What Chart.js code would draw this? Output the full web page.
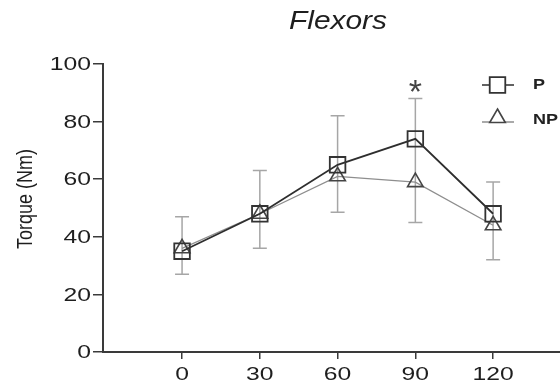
<!DOCTYPE html>
<html>
<head>
<meta charset="utf-8">
<script src="https://cdn.jsdelivr.net/npm/chart.js@4"></script>
<style>
  html, body { margin: 0; padding: 0; background: #fff; }
  #wrap { width: 560px; height: 389px; position: relative; }
</style>
</head>
<body>
<div id="wrap"><canvas id="chart"></canvas></div>
<script>
// Data
const angles = [0, 30, 60, 90, 120];
const torqueP = [35, 48, 65, 74, 48];
const torqueNP = [36, 48, 61, 59, 44];
const sdP = [12, 15, 17, 14, 11];      // drawn upward from P
const sdNP = [9, 12, 12.5, 14, 12];    // drawn downward from NP
const xTicks = [0, 30, 60, 90, 120];
const yTicks = [0, 20, 40, 60, 80, 100];
const starAngle = 90;
const starValue = 92.5;

const FONT = '"Liberation Sans", Arial, sans-serif';
const AXIS = '#3a3a3a';
const STRETCH = 1.3;   // the source figure is wider than it is tall

function stretchedText(ctx, text, x, y, sx, align) {
    ctx.save();
    ctx.translate(x, y);
    ctx.scale(sx, 1);
    ctx.textAlign = align;
    ctx.fillText(text, 0, 0);
    ctx.restore();
}

// Title, axis labels and tick labels
const textPlugin = {
    id: 'texts',
    afterDraw(chart) {
        const { ctx, scales: { x, y } } = chart;
        ctx.save();
        ctx.fillStyle = '#1e1e1e';

        ctx.font = 'italic 26px ' + FONT;
        ctx.textBaseline = 'alphabetic';
        stretchedText(ctx, 'Flexors', 338, 29, 1.15, 'center');

        ctx.font = '19px ' + FONT;
        ctx.textBaseline = 'middle';
        yTicks.forEach(v => stretchedText(ctx, String(v), 91, y.getPixelForValue(v) + 1, STRETCH, 'right'));
        xTicks.forEach(v => stretchedText(ctx, String(v), x.getPixelForValue(v), 375, STRETCH, 'center'));

        // rotated y title
        ctx.save();
        ctx.translate(32, 199);
        ctx.scale(1.2, 1);
        ctx.rotate(-Math.PI / 2);
        ctx.font = '18px ' + FONT;
        ctx.textAlign = 'center';
        ctx.textBaseline = 'alphabetic';
        ctx.fillText('Torque (Nm)', 0, 0);
        ctx.restore();

        ctx.restore();
    }
};

// Error bars (P upward, NP downward) and the significance star
const errorBars = {
    id: 'errorBars',
    beforeDatasetsDraw(chart) {
        const { ctx, scales: { x, y } } = chart;
        ctx.save();
        ctx.strokeStyle = '#a6a6a6';
        ctx.lineWidth = 1.5;
        angles.forEach((a, i) => {
            const px = x.getPixelForValue(a);
            const top = y.getPixelForValue(torqueP[i] + sdP[i]);
            const bot = y.getPixelForValue(torqueNP[i] - sdNP[i]);
            ctx.beginPath();
            ctx.moveTo(px, top); ctx.lineTo(px, bot);
            ctx.moveTo(px - 7, top); ctx.lineTo(px + 7, top);
            ctx.moveTo(px - 7, bot); ctx.lineTo(px + 7, bot);
            ctx.stroke();
        });

        ctx.fillStyle = '#444';
        ctx.font = '34px ' + FONT;
        ctx.textAlign = 'center';
        ctx.textBaseline = 'alphabetic';
        const m = ctx.measureText('*');
        const cy = y.getPixelForValue(starValue);
        ctx.fillText('*', x.getPixelForValue(starAngle), cy + (m.actualBoundingBoxAscent - m.actualBoundingBoxDescent) / 2);
        ctx.restore();
    }
};

// Legend, top right inside the plot
const sideLegend = {
    id: 'sideLegend',
    afterDraw(chart) {
        const { ctx } = chart;
        const rows = [{ line: 85, mark: 85, text: 85 }, { line: 122, mark: 118, text: 120 }];
        ctx.save();
        chart.data.datasets.forEach((ds, i) => {
            const r = rows[i];
            ctx.strokeStyle = ds.borderColor;
            ctx.lineWidth = 1.5;
            ctx.beginPath();
            ctx.moveTo(482, r.line); ctx.lineTo(514, r.line);
            ctx.stroke();
            ctx.fillStyle = '#fff';
            ctx.strokeStyle = ds.pointBorderColor;
            ctx.lineWidth = ds.pointBorderWidth;
            Chart.helpers.drawPoint(ctx, {
                pointStyle: ds.pointStyle, rotation: 0,
                radius: ds.pointRadius, borderWidth: ds.pointBorderWidth
            }, 497.5, r.mark);
            ctx.fillStyle = '#222';
            ctx.font = 'bold 15px ' + FONT;
            ctx.textBaseline = 'middle';
            stretchedText(ctx, ds.label, 533, r.text, 1.2, 'left');
        });
        ctx.restore();
    }
};

new Chart(document.getElementById('chart'), {
    type: 'line',
    data: {
        datasets: [
            {
                label: 'P',
                data: angles.map((a, i) => ({ x: a, y: torqueP[i] })),
                borderColor: '#2e2e2e',
                borderWidth: 1.8,
                pointStyle: 'rect',
                pointRadius: 11,
                pointBorderWidth: 1.8,
                pointBorderColor: '#333',
                pointBackgroundColor: 'rgba(255,255,255,0)',
                tension: 0
            },
            {
                label: 'NP',
                data: angles.map((a, i) => ({ x: a, y: torqueNP[i] })),
                borderColor: '#8e8e8e',
                borderWidth: 1.3,
                pointStyle: 'triangle',
                pointRadius: 9,
                pointBorderWidth: 1.6,
                pointBorderColor: '#444',
                pointBackgroundColor: 'rgba(255,255,255,0)',
                tension: 0
            }
        ]
    },
    options: {
        responsive: true,
        maintainAspectRatio: false,
        animation: false,
        layout: { autoPadding: false, padding: { top: 64, right: 0, left: 0, bottom: 0 } },
        plugins: {
            legend: { display: false },
            tooltip: { enabled: false }
        },
        scales: {
            x: {
                type: 'linear',
                min: -30.5,
                max: 145.8,
                afterBuildTicks(scale) {
                    scale.ticks = xTicks.map(v => ({ value: v }));
                },
                afterFit(scale) {
                    scale.height = 37;
                    scale.paddingLeft = 0;
                    scale.paddingRight = 0;
                },
                grid: { drawOnChartArea: false, drawTicks: true, tickLength: 7, color: AXIS, lineWidth: 1.5 },
                border: { color: AXIS, width: 2 },
                ticks: { display: false }
            },
            y: {
                min: 0,
                max: 100,
                afterBuildTicks(scale) {
                    scale.ticks = yTicks.map(v => ({ value: v }));
                },
                afterFit(scale) {
                    scale.width = 103;
                    scale.paddingTop = 0;
                    scale.paddingBottom = 0;
                },
                grid: { drawOnChartArea: false, drawTicks: true, tickLength: 10, color: AXIS, lineWidth: 1.5 },
                border: { color: AXIS, width: 2 },
                ticks: { display: false }
            }
        }
    },
    plugins: [errorBars, textPlugin, sideLegend]
});
</script>
</body>
</html>
